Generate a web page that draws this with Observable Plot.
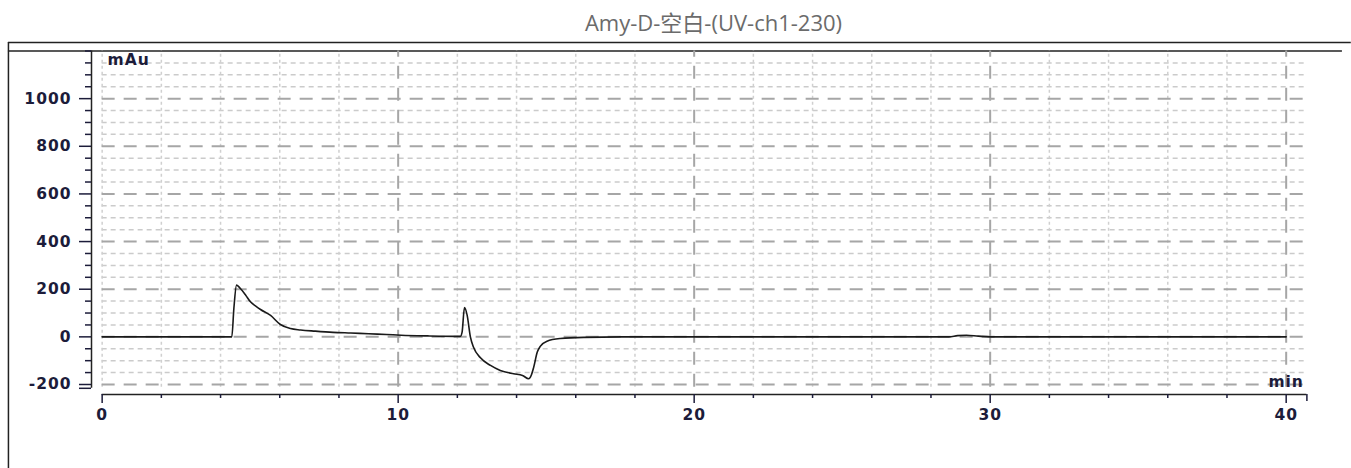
<!DOCTYPE html>
<html><head><meta charset="utf-8">
<script src="https://cdn.jsdelivr.net/npm/d3@7"></script>
<script src="https://cdn.jsdelivr.net/npm/@observablehq/plot@0.6"></script>
<style>
body{margin:0;background:#fff;}
#title{height:40px;line-height:44px;text-align:center;padding-left:76px;font-family:"Open Sans","Noto Sans CJK SC",sans-serif;font-size:22px;color:#6b6b6b;}
</style></head><body>
<div id="title">Amy-D-空白-(UV-ch1-230)</div>
<div id="chart"></div>
<script>
// chromatogram trace (min, mAu)
const times = [0, 4.0, 4.38, 4.45, 4.54, 4.67, 4.85, 5.01, 5.2, 5.35, 5.69, 6.02, 6.36, 6.7, 7.2, 7.8, 8.4, 9.0, 9.6, 10.1, 11.0, 12.1,
  12.16, 12.24, 12.33, 12.44, 12.55, 12.78, 13.12, 13.45, 13.9, 14.2, 14.41, 14.5, 14.58, 14.7, 14.8, 15.03, 15.48, 16.26, 18.0,
  28.6, 28.9, 29.2, 29.6, 30.0, 40.0];
const signal = [0, 0, 0, 120, 217, 203, 175, 147, 128, 115, 90, 52, 35, 29, 24, 19, 16, 13, 10, 7, 4, 2,
  20, 123, 91, 0, -45, -88, -120, -141, -155, -162, -176, -160, -127, -64, -40, -18, -7, -2, 0,
  0, 5, 7, 3, 0, 0];

// axis ticks
const yMajorTicks = [-200, 0, 200, 400, 600, 800, 1000];
const yMinorTicks = [-150, -100, -50, 50, 100, 150, 250, 300, 350, 450, 500, 550, 650, 700, 750, 850, 900, 950, 1050, 1100, 1150, 1200];
const yAxisEnd = [-216];
const xMajorTicks = [0, 10, 20, 30, 40];
const xMinorTicks = [2, 4, 6, 8, 12, 14, 16, 18, 22, 24, 26, 28, 32, 34, 36, 38];
const xAxisEnd = [40.7];

// grid lines
const yMinorGrid = yMinorTicks.filter(v => v < 1200);
const yMajorGrid = yMajorTicks;
const xMinorGrid = [0, ...xMinorTicks];
const xMajorGrid = xMajorTicks.filter(v => v > 0);

const X0 = -0.36, X1 = 40.7, Y0 = -242, Y1 = 1200;

const chart = Plot.plot({
  width: 1351, height: 428,
  marginLeft: 91, marginRight: 44.6, marginTop: 10.5, marginBottom: 74,
  x: {domain: [X0, X1], axis: null},
  y: {domain: [Y0, Y1], axis: null},
  style: {background: "#fff", color: "#1c1c3a", fontFamily: "DejaVu Sans", fontSize: "15.5px", fontWeight: "bold", letterSpacing: "1px", overflow: "visible"},
  marks: [
    // outer frame
    Plot.ruleY([1235.7], {x1: -3.166, x2: 42.2, stroke: "#222", strokeWidth: 1.5}),
    Plot.ruleY([Y1], {x1: -3.166, x2: 41.9, stroke: "#222", strokeWidth: 1.5}),
    Plot.ruleX([-3.166], {y1: -560, y2: 1235.7, stroke: "#222", strokeWidth: 1.5}),
    // grid
    Plot.ruleY(yMinorGrid, {x1: 0, x2: X1, stroke: "#cbcbcb", strokeWidth: 1.5, strokeDasharray: "5,4"}),
    Plot.ruleX(xMinorGrid, {y1: -212, y2: Y1, stroke: "#d0d0d0", strokeWidth: 1.5, strokeDasharray: "3,3"}),
    Plot.ruleY(yMajorGrid, {x1: 0, x2: X1, stroke: "#a6a6a6", strokeWidth: 2, strokeDasharray: "13,9"}),
    Plot.ruleX(xMajorGrid, {y1: -212, y2: Y1, stroke: "#a6a6a6", strokeWidth: 2, strokeDasharray: "13,9"}),
    // axes lines
    Plot.ruleX([X0], {y1: -216, y2: Y1, stroke: "#222", strokeWidth: 1.5}),
    Plot.ruleY([Y0], {x1: 0, x2: X1, stroke: "#222", strokeWidth: 1.5}),
    Plot.axisY(yMajorTicks, {anchor: "left", tickSize: 12, tickPadding: 8, tickFormat: d => String(d), label: null, strokeWidth: 1.5}),
    Plot.axisY(yMinorTicks, {anchor: "left", tickSize: 6, tickFormat: () => "", label: null, strokeWidth: 1.5}),
    Plot.axisY(yAxisEnd, {anchor: "left", tickSize: 12, tickFormat: () => "", label: null, strokeWidth: 1.5}),
    Plot.axisX(xMajorTicks, {anchor: "bottom", tickSize: 9, tickPadding: 5, tickFormat: d => String(d), label: null, strokeWidth: 1.5}),
    Plot.axisX(xMinorTicks, {anchor: "bottom", tickSize: 4, tickFormat: () => "", label: null, strokeWidth: 1.5}),
    Plot.axisX(xAxisEnd, {anchor: "bottom", tickSize: 7, tickFormat: () => "", label: null, strokeWidth: 1.5}),
    // unit labels
    Plot.text(["mAu"], {frameAnchor: "top-left", dx: 16, dy: 3, lineAnchor: "top", textAnchor: "start", fill: "#1c1c3a"}),
    Plot.text(["min"], {frameAnchor: "bottom-right", dx: -3, dy: -8, lineAnchor: "bottom", textAnchor: "end", fill: "#1c1c3a"}),
    // trace
    Plot.line(signal, {x: times, y: signal, stroke: "#1a1a1a", strokeWidth: 1.6, curve: "monotone-x"})
  ]
});
document.getElementById("chart").appendChild(chart);
</script>
</body></html>
